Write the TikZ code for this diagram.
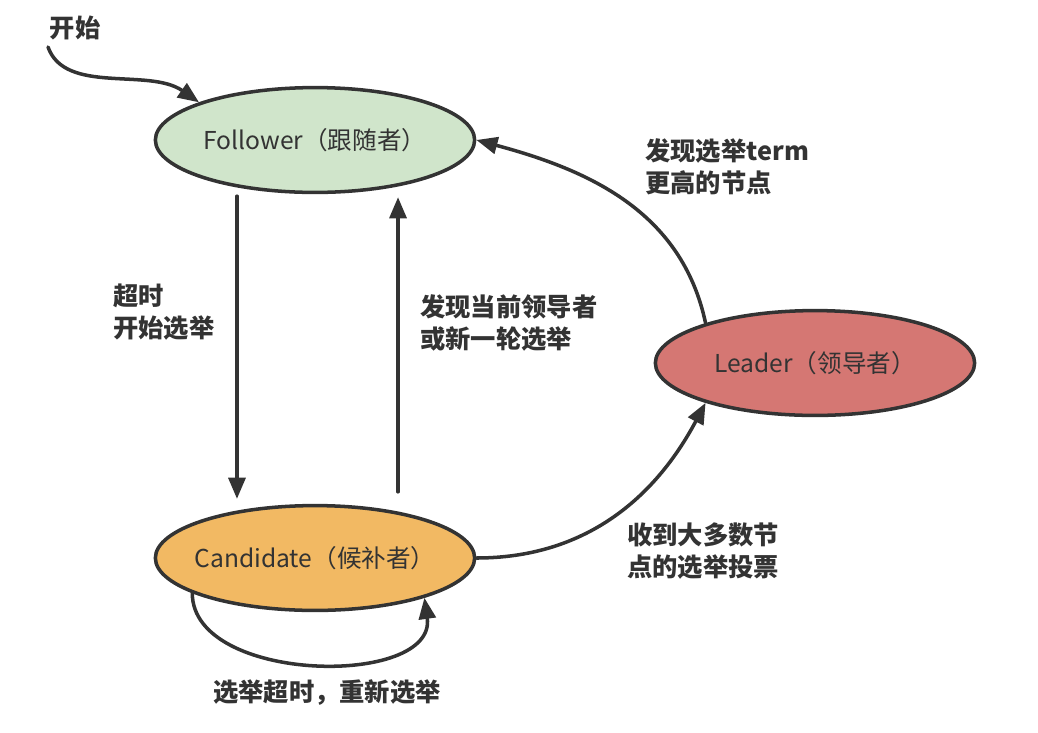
\documentclass[tikz,border=0pt]{standalone}
\usepackage{fontspec}
\setmainfont{Noto Sans CJK SC}
\usetikzlibrary{shapes.geometric,arrows.meta}

\definecolor{followergreen}{HTML}{D0E5CB}
\definecolor{candidateorange}{HTML}{F2B963}
\definecolor{leaderred}{HTML}{D57773}
\definecolor{inkgray}{HTML}{333333}

\begin{document}
\begin{tikzpicture}[
  x=0.025cm,
  y=-0.025cm,
  line cap=round,
  line join=round,
  raft state/.style={ellipse, draw=inkgray, line width=2.5pt, text=inkgray,
    minimum width=7.98cm, minimum height=2.62cm, inner xsep=-0.8cm,
    inner ysep=0pt, font=\fontsize{17.5}{20}\selectfont},
  raft arrow/.style={-{Triangle[length=15pt, width=12pt]}, draw=inkgray,
    line width=2.5pt},
  raft label/.style={text=inkgray, align=left, inner sep=0pt, anchor=west,
    font=\fontsize{18}{22.7}\selectfont\bfseries}
]
  \useasboundingbox (0,0) rectangle (1038,732);

  % The three states of a node.
  \node[raft state, fill=followergreen] (follower) at (315,140)
    {Follower（跟随者）};
  \node[raft state, fill=candidateorange] (candidate) at (315,558)
    {Candidate（候补者）};
  \node[raft state, fill=leaderred] (leader) at (815,363)
    {Leader（领导者）};

  % Entry point.
  \node[raft label, anchor=center] (startlabel) at (75,28) {开始};
  \coordinate (start) at (48,47);
  \draw[raft arrow] (start) .. controls +(17,48) and +(-50,-35) ..
    (follower.162);

  % Transitions between the states.
  \draw[raft arrow] ([xshift=-1.95cm, yshift=-0.05cm]follower.south) --
    ([xshift=-1.95cm, yshift=0.125cm]candidate.north);
  \draw[raft arrow] ([xshift=2.075cm, yshift=0.3cm]candidate.north) --
    ([xshift=2.075cm, yshift=-0.075cm]follower.south);
  \draw[raft arrow] (candidate.east) to[out=0, in=242] (leader.200);
  \draw[raft arrow] (leader.160) to[out=102, in=-15] (follower.east);
  \draw[raft arrow] (candidate.196) to[out=-90, in=-82] (candidate.340);

  % Transition labels.
  \node[raft label] (timeoutlabel) at (113,312) {超时\\开始选举};
  \node[raft label] (steplabel) at (420,323) {发现当前领导者\\或新一轮选举};
  \node[raft label] (termlabel) at (645,167) {发现选举term\\更高的节点};
  \node[raft label] (votelabel) at (627,551) {收到大多数节\\点的选举投票};
  \node[raft label, anchor=center] (retrylabel) at (327,693)
    {选举超时，重新选举};
\end{tikzpicture}
\end{document}
